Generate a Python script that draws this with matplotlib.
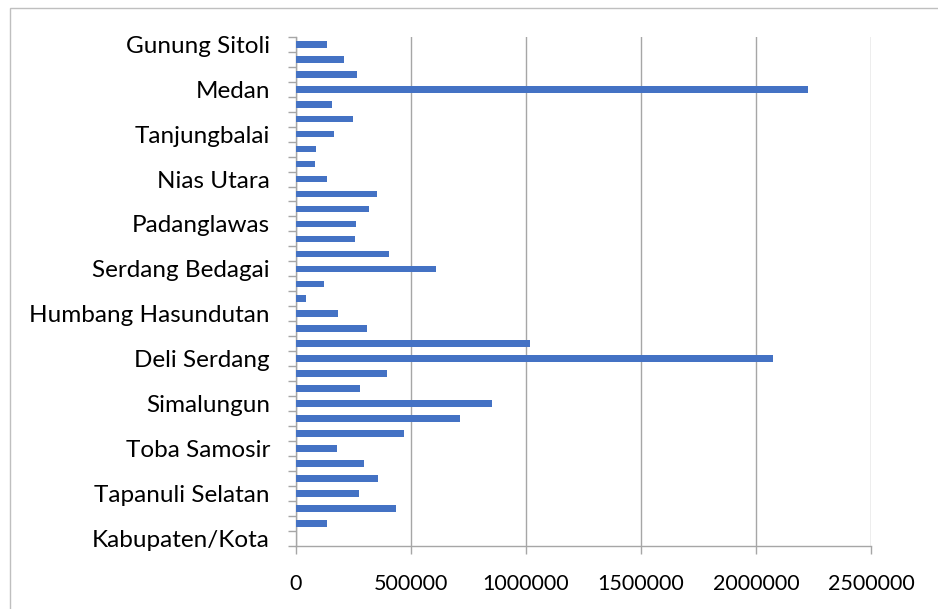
import numpy as np
import matplotlib
matplotlib.use("Agg")
import matplotlib.pyplot as plt
from matplotlib.patches import Rectangle

# Kabupaten/Kota di Sumatera Utara, dari bawah ke atas
regions = [
    "Kabupaten/Kota", "Nias", "Mandailing Natal", "Tapanuli Selatan",
    "Tapanuli Tengah", "Tapanuli Utara", "Toba Samosir", "Labuhanbatu",
    "Asahan", "Simalungun", "Dairi", "Karo", "Deli Serdang", "Langkat",
    "Nias Selatan", "Humbang Hasundutan", "Pakpak Bharat", "Samosir",
    "Serdang Bedagai", "Batu Bara", "Padang Lawas Utara", "Padanglawas",
    "Labuhanbatu Selatan", "Labuhanbatu Utara", "Nias Utara", "Nias Barat",
    "Sibolga", "Tanjungbalai", "Pematangsiantar", "Tebing Tinggi", "Medan",
    "Binjai", "Padangsidimpuan", "Gunung Sitoli",
]
population = [
    0, 137000, 435000, 277000,
    356000, 296000, 181000, 471000,
    713000, 853000, 281000, 396000, 2073000, 1019000,
    311000, 184000, 46000, 124000,
    610000, 404000, 258000, 264000,
    320000, 354000, 135000, 85000,
    87000, 168000, 249000, 159000, 2228000,
    268000, 211000, 137000,
]
x_ticks = [0, 500000, 1000000, 1500000, 2000000, 2500000]

GRID = "#a6a6a6"
BAR = "#4472c4"

plt.rcParams["font.family"] = ["Lato", "DejaVu Sans"]

fig = plt.figure(figsize=(9.38, 6.09), dpi=100)
ax = fig.add_axes([0.3152, 0.1034, 0.9286 - 0.3152, 0.9397 - 0.1034])

pos = np.arange(len(regions))
ax.barh(pos, population, height=0.45, color=BAR, zorder=3)

ax.set_xlim(0, 2500000)
ax.set_ylim(-0.5, len(regions) - 0.5)
ax.set_xticks(x_ticks)
ax.set_xticklabels([str(v) for v in x_ticks], fontsize=15.5)
ax.grid(axis="x", color=GRID, linewidth=1.0, zorder=0)

# only every third category is labelled
ax.set_yticks(pos[::3])
ax.set_yticklabels(regions[::3], fontsize=17.5)
ax.set_yticks(np.arange(-0.5, len(regions), 1.0), minor=True)
ax.tick_params(axis="y", which="major", length=0, pad=18.5)
ax.tick_params(axis="y", which="minor", length=6, color=GRID, width=1.0)
ax.tick_params(axis="x", length=6, color=GRID, width=1.0, pad=14)

for side in ["top", "right"]:
    ax.spines[side].set_visible(False)
for side in ["left", "bottom"]:
    ax.spines[side].set_color(GRID)
    ax.spines[side].set_linewidth(1.0)

# outer chart frame (cut off at right and bottom)
fig.patches.append(Rectangle((10 / 938, -0.1), 1.2, 1.1 - 8 / 609,
                             transform=fig.transFigure, fill=False,
                             edgecolor="#bfbfbf", linewidth=1.0))

fig.savefig("out.png", dpi=100)
